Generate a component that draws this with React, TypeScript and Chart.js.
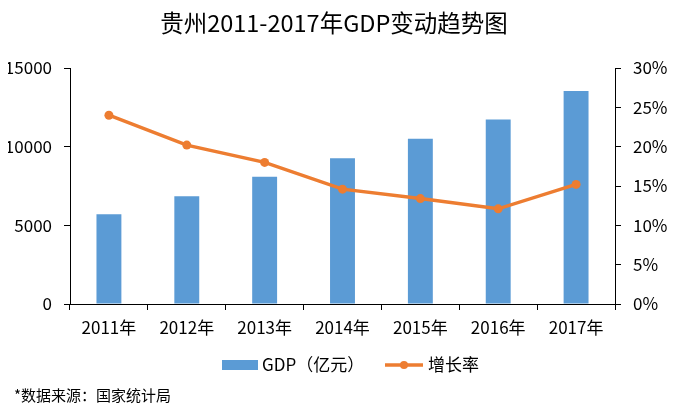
import React, { useEffect, useRef } from "react";
import { Chart, registerables } from "chart.js";

Chart.register(...registerables);

const TITLE = "贵州2011-2017年GDP变动趋势图";
const SOURCE = "*数据来源：国家统计局";
const categories = ["2011年", "2012年", "2013年", "2014年", "2015年", "2016年", "2017年"];
const gdp = [5702, 6852, 8087, 9266, 10503, 11734, 13541];
const growth = [24.0, 20.2, 18.0, 14.6, 13.4, 12.1, 15.2];
const gdpLabel = "GDP（亿元）";
const growthLabel = "增长率";

const FONT = "'Noto Sans CJK SC', 'Noto Sans', sans-serif";
const BLUE = "#5B9BD5";
const ORANGE = "#ED7D31";

const decorPlugin = {
  id: "decor",
  afterDraw(chart: any) {
    const ctx = chart.ctx;
    ctx.save();
    ctx.fillStyle = "#000";
    ctx.textBaseline = "middle";
    // title
    ctx.font = `23.5px ${FONT}`;
    ctx.textAlign = "center";
    ctx.fillText(TITLE, 334, 23);
    // legend
    ctx.font = `17px ${FONT}`;
    ctx.textAlign = "left";
    const ly = 365;
    ctx.fillStyle = BLUE;
    ctx.fillRect(222, ly - 5, 36, 10);
    ctx.fillStyle = "#000";
    ctx.fillText(gdpLabel, 262, ly);
    ctx.strokeStyle = ORANGE;
    ctx.lineWidth = 3.5;
    ctx.beginPath();
    ctx.moveTo(385, ly);
    ctx.lineTo(423, ly);
    ctx.stroke();
    ctx.fillStyle = ORANGE;
    ctx.beginPath();
    ctx.arc(404, ly, 4, 0, Math.PI * 2);
    ctx.fill();
    ctx.fillStyle = "#000";
    ctx.fillText(growthLabel, 428, ly);
    // source
    ctx.font = `15px ${FONT}`;
    ctx.fillText(SOURCE, 14, 395);
    ctx.restore();
  },
};

export default function App() {
  const ref = useRef<HTMLCanvasElement>(null);
  useEffect(() => {
    document.body.style.margin = "0";
    const chart = new Chart(ref.current!, {
      type: "bar",
      data: {
        labels: categories,
        datasets: [
          {
            type: "line",
            label: growthLabel,
            data: growth,
            yAxisID: "y1",
            borderColor: ORANGE,
            backgroundColor: ORANGE,
            borderWidth: 3.5,
            pointRadius: 4.5,
            pointBackgroundColor: ORANGE,
            pointBorderWidth: 0,
            tension: 0,
            order: 0,
          } as any,
          {
            type: "bar",
            label: gdpLabel,
            data: gdp,
            yAxisID: "y",
            backgroundColor: BLUE,
            barPercentage: 0.64,
            categoryPercentage: 0.5,
            order: 1,
          },
        ],
      },
      options: {
        animation: false,
        responsive: false,
        maintainAspectRatio: false,
        layout: { padding: { top: 68, left: 8, right: 0, bottom: 0 } },
        plugins: { legend: { display: false }, title: { display: false }, tooltip: { enabled: false } },
        scales: {
          x: {
            offset: true,
            grid: { offset: true, drawOnChartArea: false, drawTicks: true, tickLength: 6, color: "#000" },
            border: { display: true, color: "#000", width: 1 },
            ticks: { color: "#000", font: { family: FONT, size: 17 }, padding: 7, maxRotation: 0 },
            afterFit: (s: any) => { s.height = 111; },
          },
          y: {
            position: "left",
            min: 0,
            max: 15000,
            ticks: { stepSize: 5000, color: "#000", font: { family: FONT, size: 17 }, padding: 12, callback: (v: any) => String(v) },
            grid: { drawOnChartArea: false, drawTicks: true, tickLength: 6, color: "#000" },
            border: { display: true, color: "#000", width: 1 },
            afterFit: (s: any) => { s.width = 62; },
          },
          y1: {
            position: "right",
            min: 0,
            max: 30,
            ticks: { stepSize: 5, color: "#000", font: { family: FONT, size: 17 }, padding: 12, callback: (v: any) => v + "%" },
            grid: { drawOnChartArea: false, drawTicks: true, tickLength: 6, color: "#000" },
            border: { display: true, color: "#000", width: 1 },
            afterFit: (s: any) => { s.width = 60; },
          },
        },
      },
      plugins: [decorPlugin],
    });
    return () => chart.destroy();
  }, []);
  return (
    <div style={{ width: 675, height: 415, background: "#fff" }}>
      <canvas ref={ref} width={675} height={415} style={{ display: "block" }} />
    </div>
  );
}
